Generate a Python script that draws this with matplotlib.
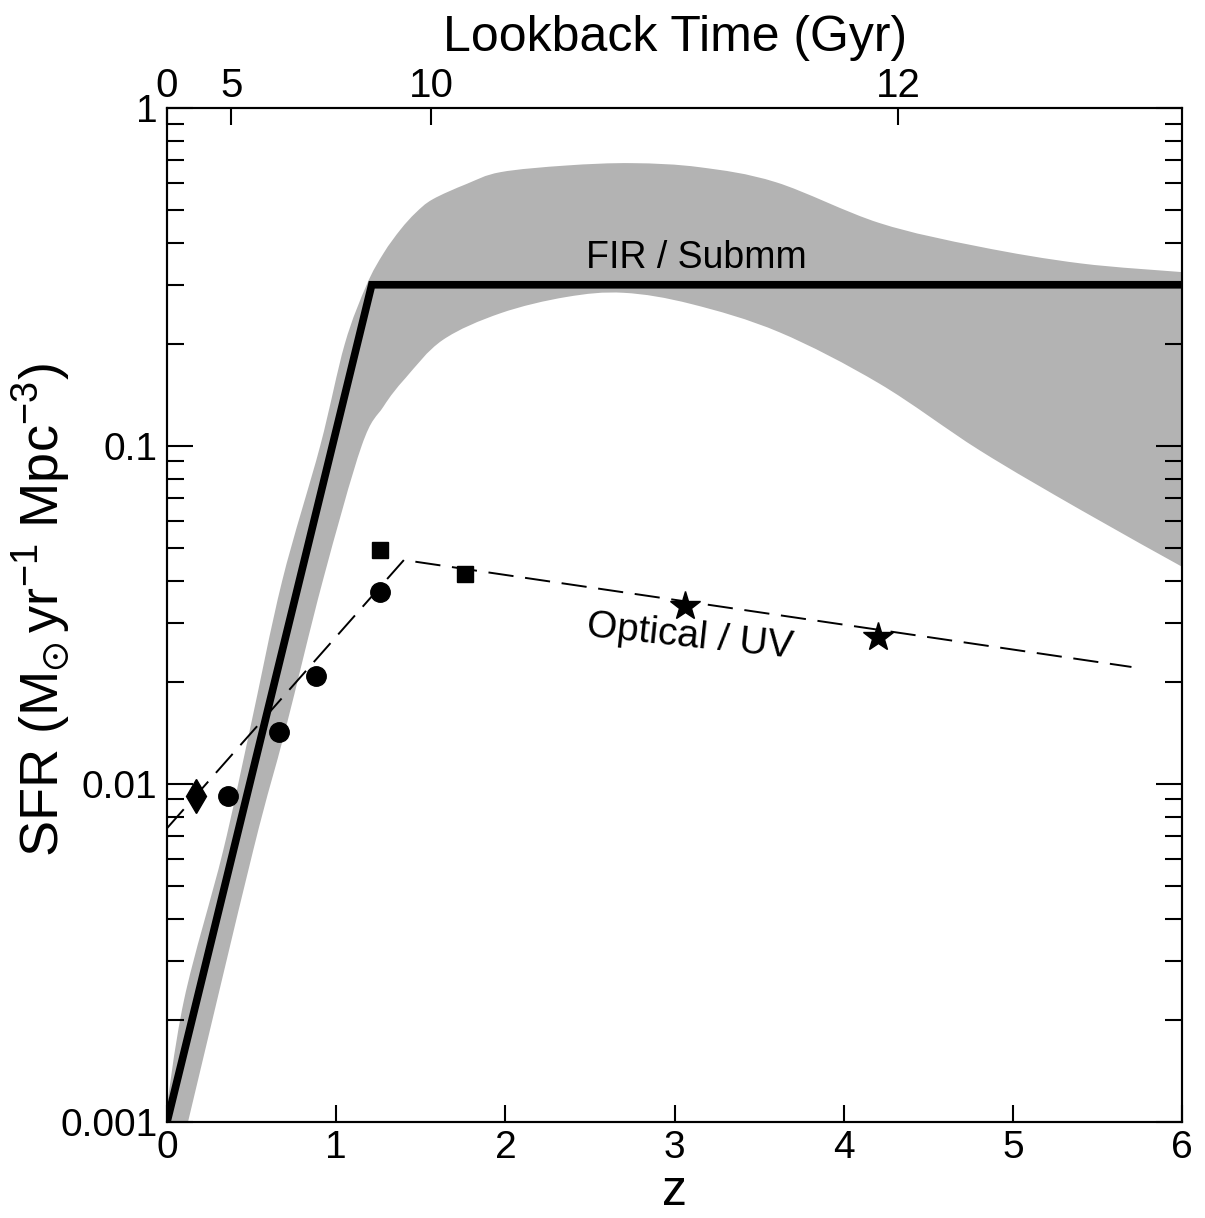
"""Cosmic star formation history: FIR/Submm vs Optical/UV."""

import matplotlib
matplotlib.use("Agg")
import matplotlib.pyplot as plt
import numpy as np
from matplotlib.path import Path
from matplotlib.patches import PathPatch
from matplotlib.ticker import LogLocator, NullFormatter, FixedLocator

plt.rcParams["font.family"] = ["Liberation Sans", "DejaVu Sans"]
plt.rcParams["mathtext.fontset"] = "custom"
plt.rcParams["mathtext.rm"] = "Liberation Sans"
plt.rcParams["mathtext.it"] = "Liberation Sans:italic"
plt.rcParams["mathtext.fallback"] = "stixsans"

# FIR / Submm model (thick black line)
fir_z = [0.0, 1.21, 6.0]
fir_sfr = [0.001, 0.3, 0.3]

# grey uncertainty band: upper/left edge and lower/right edge
band_up_z = [-0.02, 0.10, 0.33, 0.49, 0.68, 0.905, 1.05, 1.18, 1.28, 1.38,
             1.47, 1.57, 1.77, 1.97, 2.36, 2.75, 3.15, 3.6, 4.21, 4.8, 5.4,
             6.0]
band_up_sfr = [0.00095, 0.00229, 0.0063, 0.0145, 0.0398, 0.1, 0.2, 0.30,
               0.372, 0.437, 0.49, 0.537, 0.596, 0.646, 0.676, 0.687, 0.668,
               0.603, 0.457, 0.389, 0.347, 0.327]
band_lo_z = [0.124, 0.51, 0.70, 0.92, 1.15, 1.28, 1.41, 1.63, 1.97, 2.36, 2.7,
             3.1, 3.62, 4.21, 4.8, 5.4, 6.0]
band_lo_sfr = [0.001, 0.00638, 0.0145, 0.0398, 0.1, 0.131, 0.159, 0.206,
               0.247, 0.276, 0.284, 0.263, 0.217, 0.153, 0.0973, 0.0647,
               0.0439]

# Optical / UV fit (dashed)
uv_fit_z = [0.0, 1.4, 5.7]
uv_fit_sfr = [0.0074, 0.046, 0.0222]

# Optical / UV points
diamond_z, diamond_sfr = [0.17], [0.0092]
circle_z = [0.36, 0.66, 0.88, 1.26]
circle_sfr = [0.0092, 0.0143, 0.0209, 0.037]
square_z = [1.26, 1.76]
square_sfr = [0.0492, 0.0418]
star_z = [3.06, 4.2]
star_sfr = [0.0336, 0.0272]

# top axis: lookback time
lookback_gyr = [0, 5, 10, 12]
lookback_z = [0.0, 0.38, 1.56, 4.32]


def bezier_edge(zs, sfrs):
    """Catmull-Rom -> Bezier cubic segments in (z, log SFR) space."""
    p = np.column_stack([zs, np.log10(sfrs)])
    ext = np.vstack([p[0], p, p[-1]])
    verts, codes = [p[0]], []
    for i in range(len(p) - 1):
        p0, p1, p2, p3 = ext[i], ext[i + 1], ext[i + 2], ext[i + 3]
        c1 = p1 + (p2 - p0) / 6.0
        c2 = p2 - (p3 - p1) / 6.0
        verts += [c1, c2, p2]
        codes += [Path.CURVE4] * 3
    verts = np.array(verts)
    verts[:, 1] = 10 ** verts[:, 1]
    return verts, codes


fig = plt.figure(figsize=(12.05, 12.18), dpi=100)
ax = fig.add_axes([0.1386, 0.0788, 0.8425, 0.8325])

# banda cinza
v_up, c_up = bezier_edge(band_up_z, band_up_sfr)
v_lo, c_lo = bezier_edge(band_lo_z[::-1], band_lo_sfr[::-1])
verts = np.vstack([v_up, v_lo, v_up[:1]])
codes = [Path.MOVETO] + c_up + [Path.LINETO] + c_lo + [Path.CLOSEPOLY]
ax.add_patch(PathPatch(Path(verts, codes), facecolor="#b3b3b3", lw=0,
                       zorder=1))

ax.plot(fir_z, fir_sfr, color="black", lw=5.5, solid_joinstyle="miter", zorder=3)
ax.plot(uv_fit_z, uv_fit_sfr, color="black", lw=1.4, dashes=(13, 6), zorder=3)

ax.plot(diamond_z, diamond_sfr, "d", color="black", ms=17, zorder=4)
ax.plot(circle_z, circle_sfr, "o", color="black", ms=14, zorder=4)
ax.plot(square_z, square_sfr, "s", color="black", ms=12, zorder=4)
ax.plot(star_z, star_sfr, "*", color="black", ms=22, zorder=4)

ax.text(3.13, 0.36, "FIR / Submm", fontsize=27, ha="center", va="center")
ax.text(3.09, 0.0272, "Optical / UV", fontsize=28, ha="center", va="center",
        rotation=-6)

ax.set_yscale("log")
ax.set_xlim(0, 6)
ax.set_ylim(0.001, 1)

ax.yaxis.set_major_locator(FixedLocator([0.001, 0.01, 0.1, 1]))
ax.set_yticklabels(["0.001", "0.01", "0.1", "1"])
ax.yaxis.set_minor_locator(LogLocator(base=10, subs=range(2, 10)))
ax.yaxis.set_minor_formatter(NullFormatter())
ax.set_xticks(range(0, 7))

ax.tick_params(axis="both", which="both", direction="in", width=1.5,
               labelsize=28)
ax.tick_params(axis="y", which="major", length=19, right=True, pad=7)
ax.tick_params(axis="y", which="minor", length=12, right=True)
ax.tick_params(axis="x", which="major", length=12, top=False, pad=6)

for s in ax.spines.values():
    s.set_linewidth(1.5)

ax.set_xlabel("z", fontsize=36, labelpad=2)
ax.set_ylabel("SFR (M$_{\\odot}\\,$yr$^{-1}$ Mpc$^{-3}$)", fontsize=39)
ax.yaxis.set_label_coords(-0.093, 0.505)

ax_top = ax.twiny()
ax_top.set_xlim(0, 6)
ax_top.set_xticks(lookback_z)
ax_top.set_xticklabels([str(v) for v in lookback_gyr])
ax_top.tick_params(axis="x", direction="in", length=12, width=1.5,
                   labelsize=29, pad=2)
ax_top.set_xlabel("Lookback Time (Gyr)", fontsize=36, labelpad=12)
for s in ax_top.spines.values():
    s.set_linewidth(1.5)

fig.savefig("out.png", dpi=100)
